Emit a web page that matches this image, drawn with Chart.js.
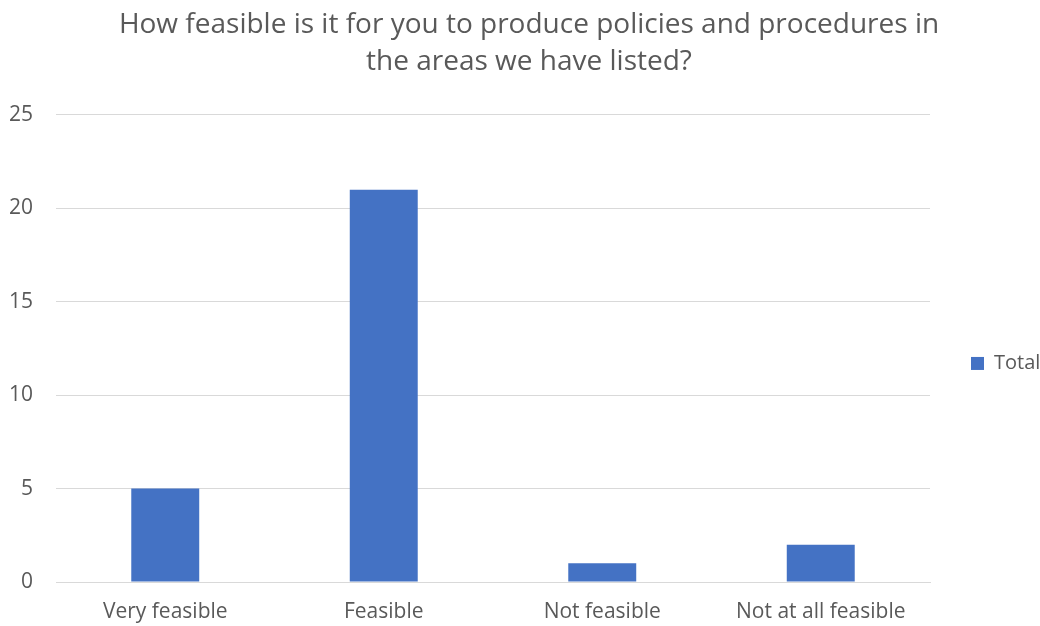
<!DOCTYPE html>
<html>
<head>
<meta charset="utf-8">
<script src="https://cdn.jsdelivr.net/npm/chart.js@4/dist/chart.umd.min.js"></script>
<style>
html,body{margin:0;padding:0;background:#fff;}
#wrap{width:1040px;height:626px;position:relative;}
</style>
</head>
<body>
<div id="wrap"><canvas id="c" width="1040" height="626"></canvas></div>
<script>
const categories = ["Very feasible", "Feasible", "Not feasible", "Not at all feasible"];
const totalValues = [5, 21, 1, 2];
const yTicks = [0, 5, 10, 15, 20, 25];
const titleLines = ["How feasible is it for you to produce policies and procedures in", "the areas we have listed?"];
const seriesName = "Total";

const FONT = "'Open Sans', 'Liberation Sans', sans-serif";
const TXT = "#595959";

const chart = new Chart(document.getElementById('c'), {
  type: 'bar',
  data: {
    labels: categories,
    datasets: [{
      label: seriesName,
      data: totalValues,
      backgroundColor: '#4472C4',
      borderWidth: 0,
      categoryPercentage: 1.0,
      barPercentage: 0.311
    }]
  },
  options: {
    responsive: false,
    animation: false,
    devicePixelRatio: 1,
    layout: { padding: { left: 0, right: 0, top: 0, bottom: 0 } },
    plugins: {
      title: {
        display: true,
        text: titleLines,
        color: TXT,
        font: { family: FONT, size: 28, weight: 'normal', lineHeight: 1.32 },
        padding: { top: 6.5, bottom: 34.5 }
      },
      legend: {
        position: 'right',
        fullSize: false,
        labels: {
          color: TXT,
          font: { family: FONT, size: 20 },
          boxWidth: 13,
          boxHeight: 13,
          padding: 41
        }
      },
      tooltip: { enabled: false }
    },
    scales: {
      x: {
        grid: { display: false, drawTicks: false },
        border: { display: true, color: '#d9d9d9' },
        ticks: { color: TXT, font: { family: FONT, size: 21 }, padding: 17 },
        afterFit: (axis) => { axis.height = 44; }
      },
      y: {
        min: 0, max: 25,
        afterBuildTicks: (axis) => { axis.ticks = yTicks.map(v => ({ value: v })); },
        grid: { color: '#d9d9d9', lineWidth: 1, drawTicks: false },
        border: { display: false },
        ticks: { color: TXT, font: { family: FONT, size: 21 }, padding: 23 },
        afterFit: (axis) => { axis.width = 56; }
      }
    }
  }
});

const lg = chart.legend;
const origFit = lg.fit.bind(lg);
lg.fit = function () { origFit(); this.width = 110; };
const origDraw = lg.draw.bind(lg);
lg.draw = function () {
  const ctx = this.ctx;
  ctx.save();
  ctx.translate(0, 15);
  origDraw();
  ctx.restore();
};
const tb = chart.titleBlock;
const origTitleDraw = tb.draw.bind(tb);
tb.draw = function () {
  const ctx = this.ctx;
  ctx.save();
  ctx.translate(9, 0);
  origTitleDraw();
  ctx.restore();
};
chart.update();
</script>
</body>
</html>
